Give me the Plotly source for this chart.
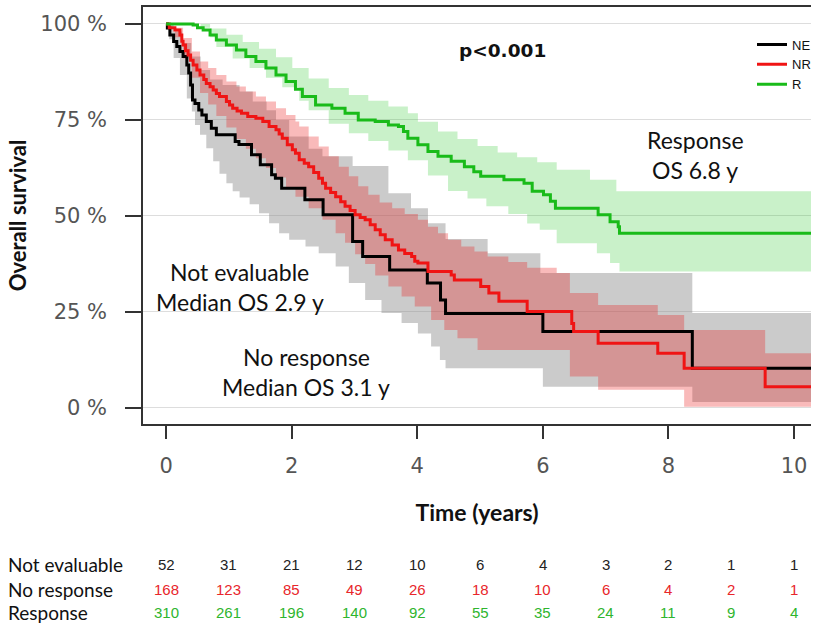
import plotly.graph_objects as go

# ---------------- data ----------------
# Kaplan-Meier step curves (time in years, survival in %)
ne_t = [0, 0.02, 0.06, 0.12, 0.17, 0.22, 0.27, 0.33, 0.36, 0.39, 0.42, 0.46, 0.52, 0.57, 0.64, 0.72, 0.80,
        1.10, 1.16, 1.36, 1.50, 1.68, 1.74, 1.84, 2.21, 2.50, 2.97, 3.13, 3.56, 4.16, 4.37, 4.45, 6.00, 8.38, 10.5]
ne_s = [100, 98.9, 97.1, 95.4, 94.1, 92.8, 91.5, 89.3, 87.2, 84.1, 80.2, 79.3, 77.6, 76.3, 74.6, 72.8, 71.1,
        69.4, 68.6, 65.9, 63.3, 60.7, 59.8, 57.2, 54.2, 50.3, 43.3, 39.4, 35.9, 32.5, 28.1, 24.6, 19.9, 10.3, 10.3]

nr_t = [0, 0.05, 0.14, 0.22, 0.25, 0.27, 0.31, 0.35, 0.39, 0.43, 0.49, 0.54, 0.60, 0.64, 0.70, 0.75, 0.80, 0.85,
        0.96, 1.01, 1.06, 1.13, 1.20, 1.30, 1.43, 1.54, 1.64, 1.75, 1.80, 1.85, 1.93, 2.01, 2.06, 2.12, 2.20, 2.27,
        2.35, 2.43, 2.49, 2.54, 2.62, 2.70, 2.78, 2.85, 2.93, 3.01, 3.09, 3.17, 3.25, 3.33, 3.41, 3.49, 3.60, 3.70,
        3.80, 3.91, 3.96, 4.01, 4.17, 4.54, 4.59, 5.01, 5.14, 5.30, 5.75, 6.46, 6.49, 6.88, 7.83, 8.25, 9.54, 10.5]
nr_s = [100, 99.0, 98.4, 97.1, 95.5, 94.5, 93.0, 91.9, 90.5, 89.3, 88.0, 86.7, 85.5, 84.5, 83.6, 82.8, 81.9, 81.1,
        79.8, 78.9, 78.0, 77.3, 76.7, 75.9, 75.4, 74.6, 73.3, 72.4, 71.3, 70.2, 68.5, 67.2, 66.3, 64.6, 63.7, 62.8,
        61.3, 59.8, 58.5, 57.2, 56.1, 55.0, 53.7, 52.5, 51.4, 50.3, 49.6, 49.0, 47.7, 46.4, 45.1, 43.8, 42.4, 41.1,
        40.2, 39.4, 38.2, 37.7, 35.5, 34.6, 33.3, 31.6, 29.9, 27.8, 25.1, 22.0, 19.9, 16.8, 14.2, 10.3, 5.5, 5.5]

r_t = [0, 0.43, 0.50, 0.59, 0.70, 0.80, 0.96, 1.12, 1.27, 1.43, 1.59, 1.75, 1.91, 2.06, 2.17, 2.38, 2.64, 2.85,
       3.06, 3.33, 3.54, 3.70, 3.78, 3.85, 4.01, 4.17, 4.33, 4.54, 4.75, 4.90, 5.01, 5.38, 5.70, 5.83, 6.01, 6.12,
       6.20, 6.88, 7.07, 7.20, 7.22, 10.5]
r_s = [100, 99.7, 99.0, 98.4, 97.1, 95.8, 94.5, 93.2, 91.5, 90.2, 88.5, 86.7, 85.0, 83.0, 81.1, 78.9, 78.0, 76.7,
       75.0, 74.6, 73.7, 73.3, 72.0, 70.2, 68.5, 66.8, 65.5, 64.2, 62.8, 61.5, 60.3, 59.4, 58.5, 56.4, 55.5, 53.8,
       52.0, 50.3, 48.5, 47.2, 45.5, 45.5]

# confidence bands (lower / upper), survival in %
ne_lo_t = [0, 0.05, 0.12, 0.22, 0.33, 0.41, 0.46, 0.54, 0.64, 0.75, 0.85, 0.96, 1.06, 1.17, 1.33, 1.48, 1.64, 1.80,
           1.96, 2.22, 2.43, 2.70, 2.91, 3.17, 3.43, 3.75, 4.01, 4.22, 4.36, 4.45, 6.00, 8.38, 10.5]
ne_lo_s = [100, 96, 91.1, 86.7, 80.6, 77.2, 73.7, 71.1, 67.6, 64.2, 61.0, 58.5, 56.4, 54.8, 53.0, 50.7, 48.1, 45.5,
           43.8, 42.0, 40.3, 36.8, 32.5, 28.1, 24.7, 22.1, 19.4, 16.0, 12.5, 10.3, 5.5, 1.5, 1.5]
ne_hi_t = [0, 0.12, 0.25, 0.40, 0.55, 0.70, 0.90, 1.17, 1.38, 1.60, 1.75, 1.96, 2.27, 2.49, 2.97, 3.54, 3.90, 4.17,
           4.45, 5.12, 5.96, 8.38, 10.5]
ne_hi_s = [100, 98, 95, 91.5, 88, 85.5, 84.1, 82.4, 79.8, 77.5, 75, 70.7, 67.5, 65.5, 63, 55.9, 52.0, 48.1,
           44.0, 40.3, 35.1, 24.7, 24.7]

nr_lo_t = [0, 0.14, 0.27, 0.41, 0.54, 0.67, 0.80, 0.96, 1.12, 1.27, 1.43, 1.59, 1.75, 1.91, 2.06, 2.27, 2.49, 2.70,
           2.85, 3.01, 3.17, 3.33, 3.54, 3.75, 3.96, 4.22, 4.43, 4.64, 4.96, 6.43, 6.88, 8.25, 10.5]
nr_lo_s = [100, 96.5, 91, 86, 82, 79, 76, 73, 70, 67.5, 65, 62.5, 60, 57.5, 55, 52, 49, 45.5,
           43.0, 40.0, 37.5, 34.5, 31.6, 29, 26.4, 22.9, 20.3, 18.1, 15.1, 8.2, 4.7, 0.3, 0.3]
nr_hi_t = [0, 0.14, 0.27, 0.41, 0.54, 0.67, 0.80, 0.96, 1.12, 1.27, 1.43, 1.59, 1.75, 1.91, 2.06, 2.12, 2.27, 2.43,
           2.59, 2.75, 2.91, 3.06, 3.22, 3.40, 3.60, 3.80, 4.01, 4.17, 4.33, 4.49, 4.70, 4.91, 5.12, 5.45, 5.75, 6.22,
           6.43, 6.88, 7.83, 8.25, 9.54, 10.5]
nr_hi_s = [100, 99, 96.3, 92.8, 90.2, 88.5, 86.7, 85.0, 83.7, 82.4, 81.1, 79.8, 78.0, 76.3, 74.6, 73.3, 70.7, 68.1,
           65.5, 62.8, 60.3, 57.7, 55.5, 53.5, 52.0, 50.5, 49.0, 47.2, 45.5, 43.8, 42.0, 40.7, 39.4, 38.0, 36.5, 35.1,
           29.9, 26.8, 24.2, 20.3, 14.2, 14.2]

r_lo_t = [0, 0.55, 0.70, 0.80, 1.06, 1.33, 1.59, 1.85, 2.12, 2.27, 2.59, 2.91, 3.22, 3.54, 3.85, 4.17, 4.49, 4.80,
          5.10, 5.45, 5.75, 5.95, 6.22, 6.86, 7.07, 7.22, 10.5]
r_lo_s = [100, 99, 96.5, 94, 91, 88.5, 86, 83.5, 80, 77.5, 74, 71.5, 69.5, 67, 64.5, 60.5, 56.5, 54.5,
          52.5, 50.5, 48, 46.4, 42.9, 40.3, 37.7, 35.5, 35.5]
r_hi_t = [0, 0.70, 0.96, 1.22, 1.48, 1.75, 2.01, 2.27, 2.59, 2.91, 3.22, 3.54, 3.85, 4.01, 4.33, 4.64, 4.96, 5.28,
          5.59, 5.91, 6.22, 6.75, 7.17, 10.5]
r_hi_s = [100, 98.8, 97.2, 95.3, 93.5, 91.3, 88.5, 85.8, 83.3, 81.5, 80.0, 78.5, 76.7, 74.5, 72.0, 70.0, 68.2, 66.5,
          65.3, 64.0, 62.0, 59.4, 56.4, 56.4]

# numbers at risk
risk_times = [0, 1, 2, 3, 4, 5, 6, 7, 8, 9, 10]
risk_ne = [52, 31, 21, 12, 10, 6, 4, 3, 2, 1, 1]
risk_nr = [168, 123, 85, 49, 26, 18, 10, 6, 4, 2, 1]
risk_r = [310, 261, 196, 140, 92, 55, 35, 24, 11, 9, 4]
risk_labels = ["Not evaluable", "No response", "Response"]

x_ticks = [0, 2, 4, 6, 8, 10]
y_ticks = [0, 25, 50, 75, 100]

# ---------------- figure ----------------
C_NE, C_NR, C_R = "#000000", "#f01414", "#19bb19"
F_NE = "rgba(140,140,140,0.45)"
F_NR = "rgba(235,25,25,0.30)"
F_R = "rgba(40,200,40,0.25)"

fig = go.Figure()


def band(lo_t, lo_s, hi_t, hi_s, fill):
    fig.add_trace(go.Scatter(x=lo_t, y=lo_s, mode="lines", line=dict(width=0, shape="hv"),
                             showlegend=False, hoverinfo="skip"))
    fig.add_trace(go.Scatter(x=hi_t, y=hi_s, mode="lines", line=dict(width=0, shape="hv"),
                             fill="tonexty", fillcolor=fill, showlegend=False, hoverinfo="skip"))


band(ne_lo_t, ne_lo_s, ne_hi_t, ne_hi_s, F_NE)
band(nr_lo_t, nr_lo_s, nr_hi_t, nr_hi_s, F_NR)
band(r_lo_t, r_lo_s, r_hi_t, r_hi_s, F_R)

fig.add_trace(go.Scatter(x=ne_t, y=ne_s, mode="lines", name="NE", line=dict(color=C_NE, width=3, shape="hv")))
fig.add_trace(go.Scatter(x=nr_t, y=nr_s, mode="lines", name="NR", line=dict(color=C_NR, width=3, shape="hv")))
fig.add_trace(go.Scatter(x=r_t, y=r_s, mode="lines", name="R", line=dict(color=C_R, width=3, shape="hv")))

TXT = "Lato"
AS = 23
annotations = [
    dict(x=5.35, y=93.0, text="<b>p<0.001</b>", font=dict(family="DejaVu Sans", size=18.5, color="#111")),
    dict(x=8.43, y=69.8, text="Response", font=dict(family=TXT, size=AS, color="#111")),
    dict(x=8.43, y=62.0, text="OS 6.8 y", font=dict(family=TXT, size=AS, color="#111")),
    dict(x=1.17, y=35.4, text="Not evaluable", font=dict(family=TXT, size=AS, color="#111")),
    dict(x=1.17, y=27.6, text="Median OS 2.9 y", font=dict(family=TXT, size=AS, color="#111")),
    dict(x=2.23, y=13.3, text="No response", font=dict(family=TXT, size=AS, color="#111")),
    dict(x=2.23, y=5.5, text="Median OS 3.1 y", font=dict(family=TXT, size=AS, color="#111")),
]
for a in annotations:
    a.update(xref="x", yref="y", showarrow=False, xanchor="center", yanchor="middle")

row_y = [-0.338, -0.398, -0.453]
row_colors = ["#222222", "#e8262b", "#2eb52e"]
for lab, yy in zip(risk_labels, row_y):
    annotations.append(dict(xref="paper", yref="paper", x=-0.2045, y=yy, text=lab, showarrow=False,
                            xanchor="left", yanchor="middle", font=dict(family=TXT, size=19, color="#111")))
for vals, yy, col in zip([risk_ne, risk_nr, risk_r], row_y, row_colors):
    for t, v in zip(risk_times, vals):
        annotations.append(dict(xref="x", yref="paper", x=t, y=yy, text=str(v), showarrow=False,
                                xanchor="center", yanchor="middle",
                                font=dict(family="Liberation Sans", size=15, color=col)))

fig.update_layout(
    width=816, height=629,
    margin=dict(l=143, r=0, t=7, b=205),
    paper_bgcolor="white", plot_bgcolor="white",
    annotations=annotations,
    legend=dict(x=0.852, y=0.946, xanchor="left", yanchor="top", bgcolor="white",
                traceorder="normal",
                font=dict(family="Liberation Sans", size=13, color="#111"),
                indentation=40, tracegroupgap=0),
    xaxis=dict(range=[-0.368, 10.27], tickvals=x_ticks, ticktext=[str(v) for v in x_ticks],
               showgrid=False, zeroline=False, showline=True, mirror=True, linecolor="#333", linewidth=1.5,
               ticks="outside", ticklen=13, tickwidth=1.5, tickcolor="#333", ticklabelstandoff=9,
               automargin=False,
               tickfont=dict(family="DejaVu Sans", size=21, color="#555"),
               title=dict(text="<b>Time (years)</b>", standoff=28,
                          font=dict(family=TXT, size=23, color="#111"))),
    yaxis=dict(range=[-4.2, 104.4], tickvals=y_ticks, ticktext=[f"{v} %" for v in y_ticks],
               showgrid=True, gridcolor="#dddddd", gridwidth=1, zeroline=False,
               showline=True, mirror=False, linecolor="#333", linewidth=1.5,
               ticks="outside", ticklen=16, tickwidth=1.5, tickcolor="#333", ticklabelstandoff=14,
               automargin=False,
               tickfont=dict(family="DejaVu Sans", size=21, color="#555"),
               title=dict(text="<b>Overall survival</b>", standoff=8,
                          font=dict(family=TXT, size=22, color="#111"))),
)

fig.write_html("out.html", config={"displayModeBar": False},
               post_script="document.body.style.margin='0';")
